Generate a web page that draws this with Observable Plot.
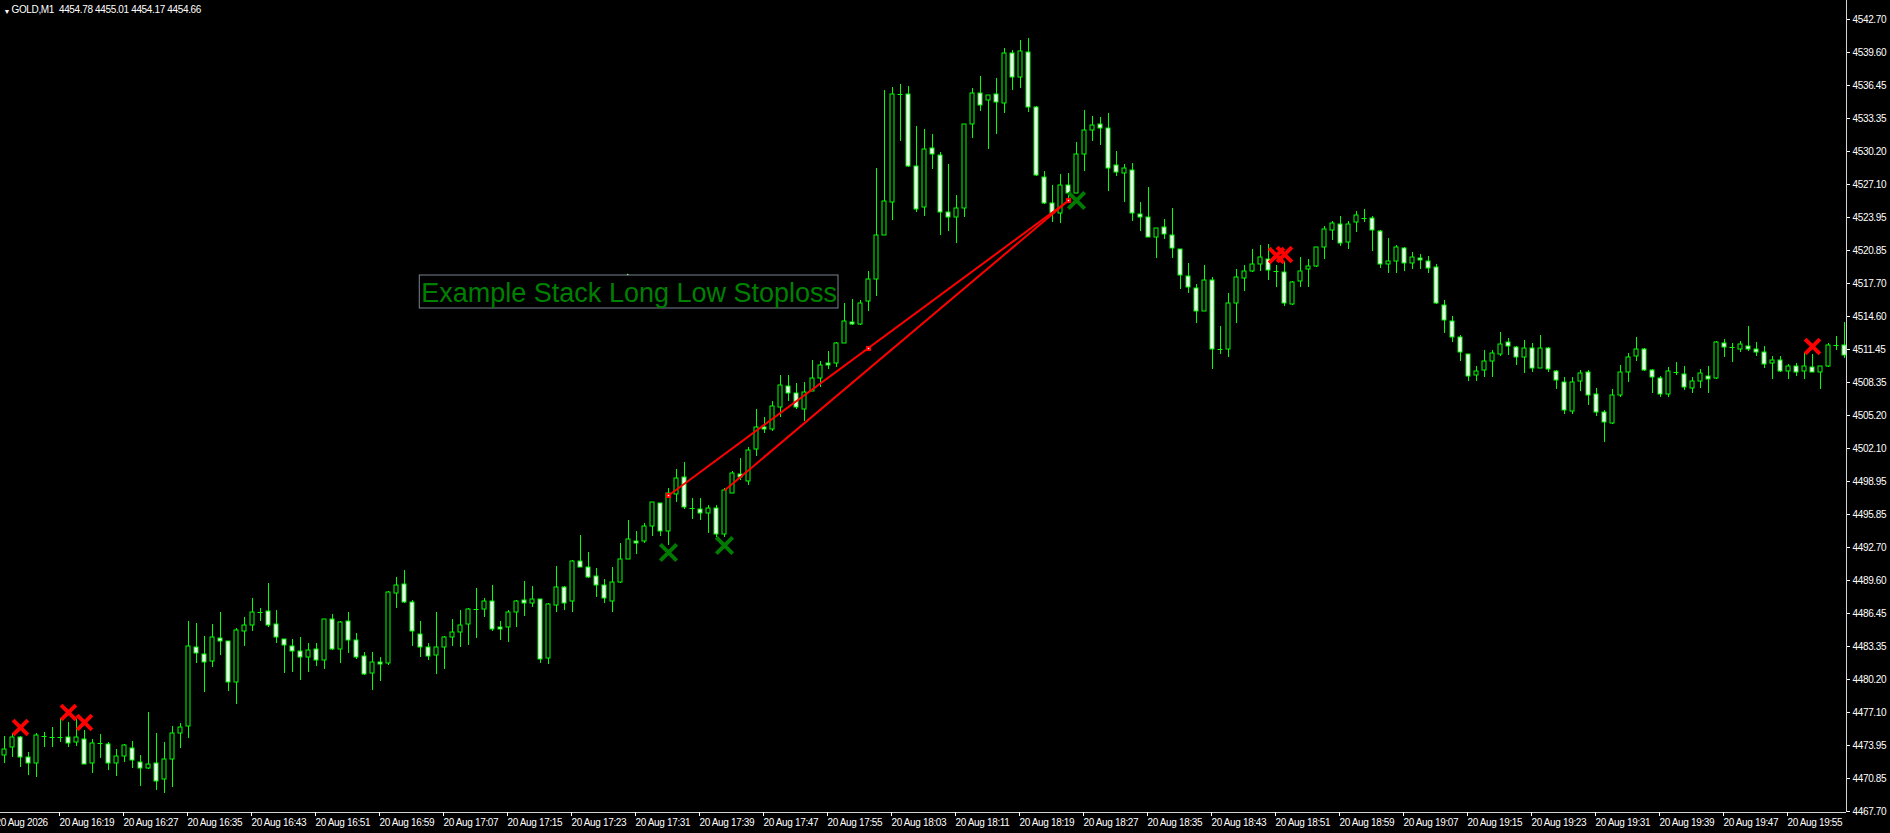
<!DOCTYPE html>
<html>
<head>
<meta charset="utf-8">
<script src="https://cdn.jsdelivr.net/npm/d3@7"></script>
<script src="https://cdn.jsdelivr.net/npm/@observablehq/plot@0.6"></script>
<style>
  html, body { margin: 0; padding: 0; background: #000; overflow: hidden; }
  #chart svg { display: block; }
</style>
</head>
<body>
<div id="chart"></div>
<script>
// ---------------- DATA ----------------
const symbolName = "GOLD,M1";
const headerValues = ["4454.78", "4455.01", "4454.17", "4454.66"];
const firstBarTime = "16:12"; // one-minute bars

const opens = [
4472.97,4473.79,4474.74,4472.78,4472.21,4474.74,4474.74,4474.74,4474.74,4474.20,
4474.49,4472.21,4474.11,4474.01,4472.21,4472.94,4473.70,4472.37,4471.74,4472.21,
4470.70,4472.59,4475.06,4475.75,4483.26,4482.54,4481.87,4484.05,4483.83,4479.89,
4484.78,4485.28,4486.58,4486.67,4485.38,4484.02,4483.36,4482.82,4482.25,4483.01,
4482.00,4485.85,4483.01,4485.66,4483.86,4482.34,4480.73,4481.78,4481.74,4488.37,
4489.16,4487.46,4484.49,4483.26,4482.44,4483.20,4484.14,4484.62,4485.37,4486.83,
4486.79,4487.55,4485.09,4485.09,4486.51,4487.65,4487.36,4487.74,4482.15,4487.17,
4488.88,4487.55,4491.34,4490.77,4489.92,4489.07,4487.62,4489.42,4491.59,4493.30,
4493.30,4494.66,4496.83,4494.25,4497.69,4499.30,4496.42,4496.27,4495.89,4496.36,
4493.90,4497.84,4499.64,4498.98,4501.95,4504.09,4503.90,4505.93,4507.91,4507.25,
4505.80,4507.50,4508.67,4510.10,4510.09,4512.05,4513.97,4513.78,4515.97,4518.05,
4522.28,4525.40,4535.63,4535.57,4528.75,4524.87,4530.45,4529.85,4524.46,4523.92,
4524.77,4532.73,4535.66,4535.00,4535.57,4534.78,4539.45,4537.18,4539.55,4534.34,
4527.71,4525.25,4524.30,4526.95,4526.26,4529.89,4532.16,4532.73,4532.35,4528.91,
4528.09,4528.37,4524.20,4523.98,4522.03,4522.97,4522.28,4520.95,4518.40,4517.26,
4515.05,4518.02,4511.42,4511.42,4515.78,4518.14,4518.87,4519.47,4520.01,4518.87,
4518.77,4515.68,4517.86,4518.99,4519.28,4521.08,4522.69,4523.32,4521.55,4523.51,
4523.89,4523.82,4522.59,4519.47,4519.82,4520.98,4519.56,4520.10,4519.82,4519.18,
4515.58,4514.07,4512.55,4510.94,4509.02,4509.43,4510.34,4510.94,4512.08,4511.60,
4510.66,4511.51,4509.68,4511.51,4509.33,4508.29,4505.61,4508.45,4509.24,4507.15,
4505.45,4504.47,4507.06,4509.24,4510.81,4511.41,4509.43,4508.67,4507.15,4509.30,
4509.11,4507.72,4508.38,4508.92,4508.67,4511.98,4511.67,4511.48,4511.76,4511.48,
4511.13,4510.09,4510.39,4509.33,4509.84,4509.33,4509.74,4509.23,4509.84,4511.80,
4511.85
];
const highs = [
4474.80,4475.06,4474.80,4473.26,4475.06,4475.21,4475.69,4476.48,4476.10,4476.48,
4475.37,4474.52,4474.99,4474.27,4473.54,4474.05,4474.33,4473.00,4477.04,4475.06,
4474.20,4475.75,4476.00,4485.69,4485.47,4484.27,4485.41,4486.51,4483.83,4485.00,
4486.04,4487.84,4486.89,4489.26,4486.73,4484.02,4483.96,4484.15,4483.64,4483.58,
4485.85,4486.35,4485.69,4486.54,4484.55,4482.75,4482.75,4482.28,4488.56,4489.86,
4490.52,4487.68,4485.69,4483.58,4486.54,4484.27,4485.88,4486.73,4486.92,4488.81,
4487.87,4489.10,4485.69,4486.73,4487.68,4489.48,4489.00,4487.74,4487.36,4490.90,
4489.00,4491.47,4493.84,4492.22,4490.71,4489.67,4490.77,4493.05,4495.26,4494.18,
4494.94,4496.93,4496.83,4498.25,4500.09,4500.75,4497.34,4497.34,4496.68,4496.68,
4498.25,4499.90,4501.13,4502.14,4505.77,4504.98,4506.49,4508.99,4508.99,4508.20,
4508.36,4510.41,4510.32,4511.27,4512.08,4515.83,4516.18,4516.09,4518.84,4528.56,
4535.98,4536.23,4536.55,4536.36,4532.57,4532.29,4531.81,4530.11,4528.97,4526.04,
4532.73,4536.17,4537.30,4535.47,4537.12,4539.92,4539.77,4540.71,4540.90,4534.46,
4528.31,4526.98,4528.02,4528.09,4531.05,4534.08,4533.52,4533.39,4533.80,4530.20,
4528.94,4529.07,4525.37,4526.79,4522.94,4523.76,4524.80,4520.95,4519.56,4517.57,
4519.41,4518.30,4513.63,4516.72,4519.00,4519.37,4520.92,4521.30,4521.39,4519.41,
4519.66,4517.89,4520.13,4519.97,4521.08,4523.10,4523.57,4524.05,4523.57,4524.52,
4524.71,4524.08,4522.72,4521.96,4521.27,4521.11,4520.60,4520.45,4520.29,4519.50,
4516.09,4514.57,4512.77,4510.94,4509.84,4511.35,4511.35,4513.06,4512.46,4511.73,
4512.30,4512.01,4512.77,4511.60,4509.46,4508.76,4508.76,4509.46,4509.46,4507.78,
4505.67,4507.66,4509.93,4511.04,4512.58,4511.51,4509.52,4508.89,4509.71,4510.22,
4509.80,4508.76,4509.55,4509.84,4512.17,4512.39,4512.01,4512.20,4513.62,4512.11,
4511.76,4510.74,4510.74,4510.04,4510.09,4511.09,4510.99,4509.84,4512.00,4512.65,
4514.01
];
const lows = [
4472.28,4472.85,4471.84,4471.11,4470.89,4473.79,4473.79,4474.27,4473.73,4473.89,
4472.12,4471.33,4472.75,4471.58,4471.05,4472.37,4471.80,4470.10,4471.71,4469.69,
4469.37,4470.00,4473.64,4474.65,4481.69,4478.94,4481.37,4482.47,4479.06,4477.80,
4483.36,4484.78,4485.69,4485.16,4483.64,4480.74,4480.90,4480.11,4480.90,4481.43,
4481.12,4482.94,4481.74,4482.69,4482.12,4480.61,4479.16,4480.04,4481.55,4486.95,
4487.43,4483.35,4482.31,4482.00,4480.70,4481.14,4483.32,4483.26,4483.42,4484.11,
4486.10,4484.77,4483.89,4483.73,4485.15,4486.19,4487.05,4481.74,4481.62,4486.57,
4486.73,4486.57,4490.77,4489.79,4487.93,4487.36,4486.58,4489.32,4491.53,4492.04,
4493.11,4493.74,4493.77,4492.89,4496.99,4496.27,4495.35,4495.26,4494.06,4493.68,
4493.61,4497.78,4499.04,4498.57,4501.32,4503.46,4503.72,4505.04,4506.56,4505.77,
4504.66,4507.47,4507.82,4509.55,4509.77,4511.98,4513.69,4513.75,4515.08,4516.50,
4522.28,4523.67,4531.18,4528.72,4524.46,4524.08,4528.53,4522.28,4522.66,4521.52,
4523.92,4531.46,4533.99,4530.36,4531.84,4533.83,4535.98,4536.20,4533.93,4527.87,
4525.18,4523.51,4523.42,4525.72,4526.19,4528.34,4531.18,4530.77,4526.45,4527.87,
4525.40,4523.60,4522.66,4522.09,4520.10,4521.90,4520.10,4517.16,4516.72,4513.94,
4515.02,4509.59,4510.95,4510.72,4513.94,4516.97,4518.77,4518.87,4517.98,4517.35,
4515.55,4515.65,4517.35,4517.35,4519.25,4520.01,4521.77,4521.24,4520.95,4522.56,
4523.51,4520.76,4519.15,4518.68,4518.62,4518.87,4518.99,4519.03,4518.68,4515.74,
4512.99,4512.14,4510.34,4508.45,4508.45,4508.83,4508.83,4510.78,4510.91,4509.93,
4509.21,4509.30,4509.65,4509.30,4507.66,4505.29,4505.29,4507.50,4506.14,4505.13,
4502.67,4504.34,4506.93,4508.35,4510.34,4509.36,4507.31,4506.93,4506.93,4508.98,
4507.60,4507.31,4507.78,4507.25,4508.64,4510.72,4510.25,4511.16,4511.29,4510.78,
4509.68,4508.63,4509.28,4508.63,4508.88,4508.63,4509.23,4507.62,4509.74,4511.40,
4510.64
];
const closes = [
4473.54,4474.74,4472.85,4472.21,4474.87,4474.77,4474.74,4474.75,4474.11,4474.68,
4472.15,4474.11,4474.11,4472.21,4472.94,4473.92,4472.53,4471.74,4472.12,4470.54,
4472.66,4475.06,4475.62,4483.36,4482.63,4481.78,4484.15,4483.80,4479.92,4484.81,
4485.28,4486.51,4486.58,4485.28,4484.15,4483.39,4482.85,4482.25,4482.92,4482.00,
4485.85,4483.04,4485.60,4483.89,4482.25,4480.64,4481.78,4481.59,4488.40,4489.07,
4487.46,4484.71,4483.26,4482.34,4483.20,4484.14,4484.62,4485.28,4486.79,4486.86,
4487.55,4484.90,4484.90,4486.54,4487.55,4487.36,4487.74,4482.06,4487.27,4488.88,
4487.36,4491.34,4490.77,4489.83,4489.07,4487.84,4489.35,4491.53,4493.42,4493.05,
4494.66,4496.93,4494.25,4497.84,4499.20,4496.52,4496.39,4495.89,4496.36,4493.90,
4498.07,4499.68,4499.36,4501.85,4504.03,4503.84,4506.02,4508.01,4507.25,4505.93,
4507.41,4508.67,4509.94,4509.91,4511.98,4514.07,4513.78,4515.77,4518.05,4522.21,
4525.50,4535.57,4535.63,4528.81,4524.68,4530.36,4529.89,4524.39,4523.92,4524.77,
4532.73,4535.66,4534.53,4535.47,4534.81,4539.45,4537.18,4539.64,4534.34,4527.90,
4525.25,4524.36,4526.95,4526.19,4529.89,4532.16,4532.63,4532.35,4528.56,4528.18,
4528.56,4524.30,4523.92,4522.09,4522.94,4522.31,4520.98,4518.46,4517.29,4515.05,
4517.95,4511.42,4511.45,4515.78,4518.24,4518.87,4519.47,4520.13,4518.90,4518.87,
4515.78,4517.76,4518.87,4519.28,4521.08,4522.78,4523.35,4521.46,4523.25,4524.11,
4523.89,4522.69,4519.47,4519.75,4521.11,4519.56,4520.13,4519.85,4519.09,4515.78,
4514.16,4512.55,4511.13,4508.86,4509.33,4510.28,4511.04,4511.89,4511.70,4510.72,
4511.51,4509.68,4511.51,4509.52,4508.48,4505.67,4508.29,4509.14,4507.12,4505.45,
4504.50,4507.06,4509.24,4510.66,4511.41,4509.43,4508.76,4507.15,4509.33,4509.30,
4507.82,4508.38,4509.14,4508.57,4512.08,4511.60,4511.67,4511.89,4511.41,4511.13,
4510.06,4510.39,4509.38,4509.84,4509.23,4509.84,4509.23,4509.84,4511.85,4511.85,
4510.89
];

const priceTickLabels = [
  "4542.70","4539.60","4536.45","4533.35","4530.20","4527.10","4523.95","4520.85",
  "4517.70","4514.60","4511.45","4508.35","4505.20","4502.10","4498.95","4495.85",
  "4492.70","4489.60","4486.45","4483.35","4480.20","4477.10","4473.95","4470.85","4467.70"
];
const timeTickTimes = [
  "16:11","16:19","16:27","16:35","16:43","16:51","16:59","17:07","17:15","17:23",
  "17:31","17:39","17:47","17:55","18:03","18:11","18:19","18:27","18:35","18:43",
  "18:51","18:59","19:07","19:15","19:23","19:31","19:39","19:47","19:55"
];
const timeTickLabels = [
  "20 Aug 2026","20 Aug 16:19","20 Aug 16:27","20 Aug 16:35","20 Aug 16:43","20 Aug 16:51",
  "20 Aug 16:59","20 Aug 17:07","20 Aug 17:15","20 Aug 17:23","20 Aug 17:31","20 Aug 17:39",
  "20 Aug 17:47","20 Aug 17:55","20 Aug 18:03","20 Aug 18:11","20 Aug 18:19","20 Aug 18:27",
  "20 Aug 18:35","20 Aug 18:43","20 Aug 18:51","20 Aug 18:59","20 Aug 19:07","20 Aug 19:15",
  "20 Aug 19:23","20 Aug 19:31","20 Aug 19:39","20 Aug 19:47","20 Aug 19:55"
];

// chart objects (bar index, price)
const redCrossBars   = [2, 8, 10, 159, 160, 226];
const redCrossPrices = [4475.66, 4477.05, 4476.16, 4520.35, 4520.45, 4511.77];
const greenCrossBars   = [83, 90, 134];
const greenCrossPrices = [4492.20, 4492.92, 4525.56];
const stackStartBars   = [83, 90];
const stackStartPrices = [4497.64, 4498.10];
const stackEndBar = 133;
const stackEndPrice = 4525.59;
const stackMarkBars   = [83, 108, 133];
const stackMarkPrices = [4497.64, 4511.54, 4525.59];
const labelText = "Example Stack Long Low Stoploss";
const labelBarRange = [51.91, 104.25];
const labelPriceRange = [4515.36, 4518.43];
const labelTextBar = 52.1;
const labelTextPrice = 4516.74;
const labelAnchorBar = 77.9;
const labelAnchorPrice = 4518.55;

// ---------------- CHART ----------------
try {
  const LIME = "#00ff00";
  const toMin = t => { const [h, m] = t.split(":").map(Number); return h * 60 + m; };
  const t0 = toMin(firstBarTime);
  const bars = opens.map((o, i) => ({i, open: o, high: highs[i], low: lows[i], close: closes[i]}));
  const bodies = bars.filter(d => Math.abs(d.close - d.open) >= 0.1);
  const dojis = bars.filter(d => Math.abs(d.close - d.open) < 0.1);
  const priceTicks = priceTickLabels.map(Number);
  const timeTickIdx = timeTickTimes.map(t => toMin(t) - t0);
  const timeLabelByIdx = new Map(timeTickIdx.map((k, j) => [k, timeTickLabels[j]]));

  const W = 1890, H = 833, MR = 44, MB = 21;
  const plotRight = W - MR, plotBottom = H - MB;
  const barSpacing = 8, firstBarPx = 4;
  const topTickPx = 19, bottomTickPx = 811;
  const pTop = priceTicks[0], pBot = priceTicks[priceTicks.length - 1];
  const ppu = (bottomTickPx - topTickPx) / (pTop - pBot);
  const yDomain = [pTop - (plotBottom - topTickPx) / ppu, pTop + topTickPx / ppu];
  const xDomain = [-firstBarPx / barSpacing, (plotRight - firstBarPx) / barSpacing];

  const redCrosses = redCrossBars.map((b, j) => ({bar: b, price: redCrossPrices[j]}));
  const greenCrosses = greenCrossBars.map((b, j) => ({bar: b, price: greenCrossPrices[j]}));
  const stackLines = stackStartBars.map((b, j) => ({bar: b, price: stackStartPrices[j]}));
  const stackMarks = stackMarkBars.map((b, j) => ({bar: b, price: stackMarkPrices[j]}));
  const titleStr = symbolName + "\u00a0\u00a0" + headerValues.join(" ");

  const plot = Plot.plot({
    width: W, height: H,
    marginLeft: 0, marginRight: MR, marginTop: 0, marginBottom: MB,
    style: {background: "#000", color: "#fff", fontFamily: "'Liberation Sans', Arial, sans-serif", fontSize: "10px", letterSpacing: "-0.35px"},
    x: {type: "linear", domain: xDomain},
    y: {type: "linear", domain: yDomain, round: true},
    marks: [
      // wicks
      Plot.ruleX(bars, {x: "i", y1: "low", y2: "high", stroke: LIME, strokeWidth: 1}),
      // bodies
      Plot.rect(bodies, {
        x1: d => d.i - 0.25, x2: d => d.i + 0.25, y1: "open", y2: "close",
        fill: d => d.close > d.open ? "#000000" : "#ffffff", stroke: LIME, strokeWidth: 1
      }),
      Plot.ruleY(dojis, {y: "close", x1: d => d.i - 0.3125, x2: d => d.i + 0.3125, stroke: LIME, strokeWidth: 1}),
      // stack lines
      Plot.link(stackLines, {x1: "bar", y1: "price", x2: () => stackEndBar, y2: () => stackEndPrice, stroke: "#ff0000", strokeWidth: 2}),
      Plot.dot(stackMarks, {x: "bar", y: "price", symbol: "square", r: 2.9, fill: "#ff0000", stroke: null}),
      Plot.dot(stackMarks, {x: "bar", y: "price", symbol: "square", r: 0.8, fill: "#ffffff", stroke: null}),
      // crosses
      Plot.dot(greenCrosses, {x: "bar", y: "price", symbol: "times", r: 7.5, stroke: "#007a00", strokeWidth: 4}),
      Plot.dot(redCrosses, {x: "bar", y: "price", symbol: "times", r: 6.8, stroke: "#ff0000", strokeWidth: 4}),
      // label box
      Plot.rect([0], {x1: () => labelBarRange[0], x2: () => labelBarRange[1], y1: () => labelPriceRange[0], y2: () => labelPriceRange[1], fill: "#000", stroke: "#7a8490", strokeWidth: 1}),
      Plot.text([labelText], {x: () => labelTextBar, y: () => labelTextPrice, text: d => d, textAnchor: "start", fill: "#008000", fontSize: 27, fontFamily: "'Liberation Sans', Arial, sans-serif"}),
      Plot.dot([0], {x: () => labelAnchorBar, y: () => labelAnchorPrice, r: 0.8, fill: "#7dff7d", stroke: null}),
      // axes
      Plot.ruleX([xDomain[1]], {stroke: "#d4d4d4", strokeWidth: 1}),
      Plot.ruleY([yDomain[0]], {stroke: "#d4d4d4", strokeWidth: 1}),
      Plot.axisY(priceTicks, {anchor: "right", tickSize: 3, tickPadding: 3, tickFormat: d => d.toFixed(2), fontSize: 10}),
      Plot.axisX(timeTickIdx, {anchor: "bottom", tickSize: 4, tickPadding: 2, tickFormat: d => timeLabelByIdx.get(d), textAnchor: "start", dx: -1, fontSize: 10}),
      // header
      Plot.text(["\u25BC"], {frameAnchor: "top-left", dx: 3, dy: 8.5, fontSize: 7, fill: "#fff"}),
      Plot.text([titleStr], {frameAnchor: "top-left", textAnchor: "start", lineAnchor: "top", dx: 11, dy: 5, fill: "#fff", fontSize: 10})
    ]
  });
  document.getElementById("chart").appendChild(plot);
  d3.select(plot).selectAll("text").filter(function () { return this.textContent === labelText; })
    .style("letter-spacing", "0px");
} catch (e) {
  document.body.innerHTML = "<pre style='color:#f66'>" + e + "</pre>";
}
</script>
</body>
</html>
